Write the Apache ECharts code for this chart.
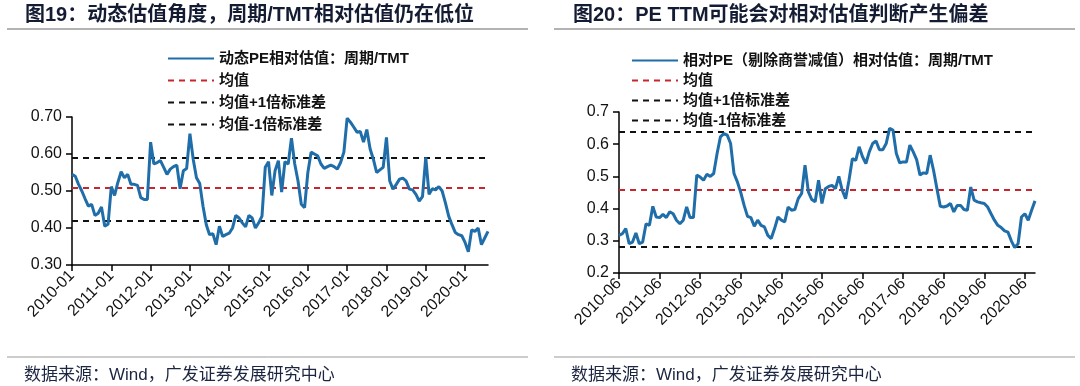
<!DOCTYPE html>
<html><head><meta charset="utf-8">
<script src="https://cdn.jsdelivr.net/npm/echarts@6/dist/echarts.min.js"></script>
<style>html,body{margin:0;padding:0;background:#fff}#c{width:1080px;height:386px}</style>
</head><body><div id="c"></div>
<script>
// ---- data ----
const leftStart = [2010, 1];   // first month of left chart
const leftCount = 128;         // 2010-01 .. 2020-08
const rightStart = [2010, 6];  // first month of right chart
const rightCount = 124;        // 2010-06 .. 2020-09

const leftValues = [0.545,0.54,0.518,0.50,0.479,0.459,0.464,0.434,0.44,0.457,
0.405,0.41,0.512,0.488,0.523,0.552,0.536,0.545,0.518,0.518,
0.515,0.482,0.477,0.477,0.632,0.573,0.577,0.582,0.564,0.545,
0.559,0.566,0.57,0.506,0.555,0.561,0.655,0.586,0.536,0.52,
0.459,0.409,0.382,0.385,0.355,0.405,0.377,0.382,0.386,0.40,
0.434,0.427,0.414,0.403,0.434,0.427,0.40,0.414,0.432,0.564,
0.579,0.488,0.555,0.582,0.497,0.579,0.573,0.643,0.573,0.527,
0.464,0.455,0.55,0.605,0.60,0.595,0.573,0.561,0.566,0.57,
0.566,0.559,0.577,0.605,0.697,0.686,0.673,0.659,0.661,0.632,
0.666,0.614,0.586,0.55,0.557,0.564,0.645,0.527,0.505,0.518,
0.532,0.535,0.527,0.505,0.503,0.491,0.473,0.485,0.591,0.491,
0.506,0.503,0.512,0.50,0.468,0.432,0.409,0.388,0.382,0.379,
0.361,0.336,0.395,0.391,0.40,0.355,0.373,0.391];
const leftMean = 0.507, leftUpper = 0.592, leftLower = 0.422;

const rightValues = [0.317,0.322,0.338,0.291,0.296,0.324,0.291,0.296,0.353,0.348,
0.407,0.374,0.372,0.382,0.372,0.39,0.384,0.364,0.353,0.364,
0.405,0.372,0.372,0.504,0.498,0.488,0.507,0.50,0.509,0.571,
0.623,0.633,0.628,0.602,0.509,0.483,0.45,0.41,0.376,0.372,
0.345,0.364,0.348,0.343,0.317,0.307,0.338,0.374,0.364,0.359,
0.405,0.395,0.397,0.431,0.447,0.535,0.452,0.428,0.421,0.488,
0.416,0.462,0.469,0.472,0.462,0.50,0.457,0.431,0.488,0.555,
0.55,0.592,0.561,0.54,0.576,0.602,0.61,0.583,0.583,0.602,
0.649,0.644,0.571,0.542,0.545,0.545,0.597,0.576,0.552,0.504,
0.511,0.509,0.566,0.519,0.462,0.407,0.405,0.408,0.416,0.39,
0.41,0.41,0.397,0.395,0.467,0.426,0.421,0.418,0.416,0.405,
0.384,0.364,0.348,0.341,0.331,0.327,0.30,0.279,0.291,0.374,
0.384,0.364,0.395,0.424];
const rightMean = 0.457, rightUpper = 0.638, rightLower = 0.276;

const leftNames = ['动态PE相对估值：周期/TMT','均值','均值+1倍标准差','均值-1倍标准差'];
const rightNames = ['相对PE（剔除商誉减值）相对估值：周期/TMT','均值','均值+1倍标准差','均值-1倍标准差'];
const titles = ['图19：动态估值角度，周期/TMT相对估值仍在低位','图20：PE TTM可能会对相对估值判断产生偏差'];
const sourceText = '数据来源：Wind，广发证券发展研究中心';

function months(start, n){
  const out=[]; let y=start[0], m=start[1];
  for(let i=0;i<n;i++){ out.push(y+'-'+(m<10?'0':'')+m); m++; if(m>12){m=1;y++;} }
  return out;
}
const leftCats = months(leftStart, leftCount);
const rightCats = months(rightStart, rightCount);

// ---- styles ----
const FONT = '"Liberation Sans", Arial, "Noto Sans CJK SC", sans-serif';
const BLUE = '#1f6ea9', RED = '#c8262c', BLACK = '#111';
const DASH = [6,5];

function xAxis(idx, cats){
  return {type:'category', gridIndex:idx, data:cats, boundaryGap:false,
    axisLine:{lineStyle:{color:'#000', width:1.5}},
    axisTick:{interval:11, length:6, lineStyle:{color:'#000', width:1.5}},
    axisLabel:{interval:11, rotate:45, fontSize:16, color:'#111', fontFamily:FONT, margin:8},
    splitLine:{show:false}};
}
function yAxis(idx, min, max, dec){
  return {type:'value', gridIndex:idx, min:min, max:max, interval:0.1,
    axisLine:{show:true, lineStyle:{color:'#000', width:1.5}},
    axisTick:{show:true, length:6, lineStyle:{color:'#000', width:1.5}},
    axisLabel:{fontSize:16, color:'#111', fontFamily:FONT, margin:10, formatter:v=>v.toFixed(dec)},
    splitLine:{show:false}};
}
function refSeries(name, idx, val, color){
  return {name:name, type:'line', xAxisIndex:idx, yAxisIndex:idx, data:[], symbol:'none',
    color:color, lineStyle:{color:color, type:DASH, width:1.8},
    markLine:{silent:true, symbol:'none', label:{show:false},
      lineStyle:{color:color, type:DASH, width:1.8}, data:[{yAxis:val}]}};
}
function lineLegend(names, left, top, gap){
  return {orient:'vertical', left:left, top:top, itemWidth:46, itemHeight:12, itemGap:gap,
    data:names, selectedMode:false, itemStyle:{opacity:0},
    textStyle:{fontSize:15, color:'#111', fontFamily:FONT, fontWeight:'bold'}};
}

const option = {
  animation:false,
  backgroundColor:'#fff',
  title:[
    {text:titles[0], left:20, top:0, textStyle:{fontSize:20, fontWeight:'bold', color:'#141c33', fontFamily:FONT}},
    {text:titles[1], left:568, top:0, textStyle:{fontSize:20, fontWeight:'bold', color:'#141c33', fontFamily:FONT}},
    {text:sourceText, left:19, top:362, textStyle:{fontSize:17, fontWeight:'normal', color:'#1c2640', fontFamily:FONT}},
    {text:sourceText, left:566, top:362, textStyle:{fontSize:17, fontWeight:'normal', color:'#1c2640', fontFamily:FONT}}
  ],
  graphic:[
    {type:'line', shape:{x1:7,y1:29,x2:528,y2:29}, style:{stroke:'#9a9a9a', lineWidth:1.5}},
    {type:'line', shape:{x1:554,y1:29,x2:1075,y2:29}, style:{stroke:'#9a9a9a', lineWidth:1.5}},
    {type:'line', shape:{x1:7,y1:357,x2:528,y2:357}, style:{stroke:'#9a9a9a', lineWidth:1}},
    {type:'line', shape:{x1:554,y1:357,x2:1075,y2:357}, style:{stroke:'#9a9a9a', lineWidth:1}}
  ],
  legend:[ lineLegend(leftNames, 162, 46, 7), lineLegend(rightNames, 626, 48, 5) ],
  grid:[
    {left:72, top:117, width:416, height:148},
    {left:619, top:112, width:416, height:161}
  ],
  xAxis:[ xAxis(0, leftCats), xAxis(1, rightCats) ],
  yAxis:[ yAxis(0, 0.3, 0.7, 2), yAxis(1, 0.2, 0.7, 1) ],
  series:[
    {name:leftNames[0], type:'line', xAxisIndex:0, yAxisIndex:0, data:leftValues, symbol:'none',
      color:BLUE, lineStyle:{color:BLUE, width:3}, z:5},
    refSeries(leftNames[1], 0, leftMean, RED),
    refSeries(leftNames[2], 0, leftUpper, BLACK),
    refSeries(leftNames[3], 0, leftLower, BLACK),
    {name:rightNames[0], type:'line', xAxisIndex:1, yAxisIndex:1, data:rightValues, symbol:'none',
      color:BLUE, lineStyle:{color:BLUE, width:3}, z:5},
    refSeries(rightNames[1], 1, rightMean, RED),
    refSeries(rightNames[2], 1, rightUpper, BLACK),
    refSeries(rightNames[3], 1, rightLower, BLACK)
  ]
};
const chart = echarts.init(document.getElementById('c'), null, {renderer:'canvas'});
chart.setOption(option);
</script></body></html>
